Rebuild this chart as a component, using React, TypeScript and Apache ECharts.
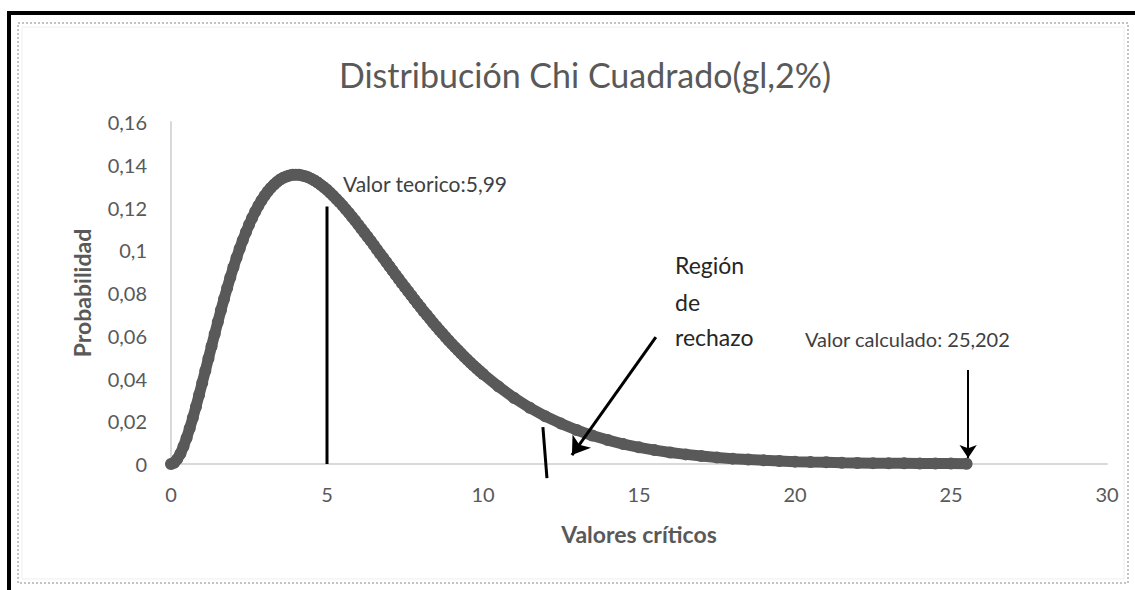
import React, { useEffect, useRef } from "react";
import * as echarts from "echarts";

const titleText = "Distribución Chi Cuadrado(gl,2%)";
const xAxisName = "Valores críticos";
const yAxisName = "Probabilidad";

// Valores críticos (x) and Probabilidad (y)
const valores: number[] = [
  0, 0.1, 0.2, 0.3, 0.4, 0.5, 0.6, 0.7, 0.8, 0.9,
  1, 1.1, 1.2, 1.3, 1.4, 1.5, 1.6, 1.7, 1.8, 1.9,
  2, 2.1, 2.2, 2.3, 2.4, 2.5, 2.6, 2.7, 2.8, 2.9,
  3, 3.1, 3.2, 3.3, 3.4, 3.5, 3.6, 3.7, 3.8, 3.9,
  4, 4.1, 4.2, 4.3, 4.4, 4.5, 4.6, 4.7, 4.8, 4.9,
  5, 5.1, 5.2, 5.3, 5.4, 5.5, 5.6, 5.7, 5.8, 5.9,
  6, 6.1, 6.2, 6.3, 6.4, 6.5, 6.6, 6.7, 6.8, 6.9,
  7, 7.1, 7.2, 7.3, 7.4, 7.5, 7.6, 7.7, 7.8, 7.9,
  8, 8.1, 8.2, 8.3, 8.4, 8.5, 8.6, 8.7, 8.8, 8.9,
  9, 9.1, 9.2, 9.3, 9.4, 9.5, 9.6, 9.7, 9.8, 9.9,
  10, 10.5, 11, 11.5, 12, 12.5, 13, 13.5, 14, 14.5,
  15, 15.5, 16, 16.5, 17, 17.5, 18, 18.5, 19, 19.5,
  20, 20.5, 21, 21.5, 22, 22.5, 23, 23.5, 24, 24.5,
  25, 25.5,
];

const probabilidad: number[] = [
  0, 0.0006, 0.0023, 0.0048, 0.0082, 0.0122, 0.0167, 0.0216, 0.0268, 0.0323,
  0.0379, 0.0436, 0.0494, 0.0551, 0.0608, 0.0664, 0.0719, 0.0772, 0.0823, 0.0873,
  0.092, 0.0965, 0.1007, 0.1047, 0.1084, 0.1119, 0.1151, 0.1181, 0.1208, 0.1233,
  0.1255, 0.1275, 0.1292, 0.1307, 0.132, 0.1331, 0.1339, 0.1345, 0.135, 0.1353,
  0.1353, 0.1353, 0.135, 0.1346, 0.1341, 0.1334, 0.1326, 0.1317, 0.1306, 0.1295,
  0.1283, 0.1269, 0.1255, 0.124, 0.1225, 0.1209, 0.1192, 0.1175, 0.1157, 0.1139,
  0.112, 0.1101, 0.1082, 0.1063, 0.1044, 0.1024, 0.1004, 0.0984, 0.0965, 0.0945,
  0.0925, 0.0905, 0.0885, 0.0866, 0.0846, 0.0827, 0.0808, 0.0789, 0.077, 0.0751,
  0.0733, 0.0714, 0.0697, 0.0679, 0.0661, 0.0644, 0.0627, 0.0611, 0.0594, 0.0578,
  0.0562, 0.0547, 0.0532, 0.0517, 0.0502, 0.0488, 0.0474, 0.046, 0.0447, 0.0434,
  0.0421, 0.0362, 0.0309, 0.0263, 0.0223, 0.0189, 0.0159, 0.0133, 0.0112, 0.0093,
  0.0078, 0.0065, 0.0054, 0.0045, 0.0037, 0.003, 0.0025, 0.0021, 0.0017, 0.0014,
  0.0011, 0.0009, 0.0008, 0.0006, 0.0005, 0.0004, 0.0003, 0.0003, 0.0002, 0.0002,
  0.0002, 0.0001,
];

// annotation segments, in data units [x, y]
const teoricoLine: number[][] = [[5, 0], [5, 0.1205]];
const corteLine: number[][] = [[11.92, 0.0173], [12.05, -0.0066]];
const rechazoArrow: number[][] = [[15.54, 0.0594], [12.85, 0.0042]];
const calculadoArrow: number[][] = [[25.55, 0.044], [25.55, 0.0028]];

const teoricoLabel = "Valor teorico:5,99";
const calculadoLabel = "Valor calculado: 25,202";
const rechazoLabel = ["Región", "de", "rechazo"];

const FONT = "Lato, 'Open Sans', sans-serif";
const GRAY = "#595959";

export default function App() {
  const ref = useRef<HTMLDivElement>(null);
  useEffect(() => {
    if (!ref.current) return;
    const chart = echarts.init(ref.current, undefined, { renderer: "svg" });
    const plainSeg = (pts: number[][]) => ({
      type: "line",
      data: pts,
      symbol: "none",
      clip: false,
      silent: true,
      lineStyle: { color: "#000", width: 3 },
      z: 5,
    });
    const arrowPair = (pts: number[][], width: number, size: number) => [
      { coord: pts[0], symbol: "none", lineStyle: { color: "#000", width, type: "solid" } },
      { coord: pts[1], symbol: "arrow", symbolSize: size },
    ];
    chart.setOption({
      animation: false,
      backgroundColor: "#ffffff",
      title: {
        text: titleText,
        left: 580,
        textAlign: "center",
        top: 52,
        textStyle: { fontFamily: FONT, fontSize: 34, fontWeight: "normal", color: GRAY },
      },
      grid: { left: 171, right: 28, top: 122, bottom: 126 },
      xAxis: {
        type: "value",
        min: 0,
        max: 30,
        interval: 5,
        name: xAxisName,
        nameLocation: "middle",
        nameGap: 58,
        nameTextStyle: { fontFamily: FONT, fontSize: 23, fontWeight: "bold", color: GRAY },
        axisLine: { show: true, onZero: false, lineStyle: { color: "#d9d9d9", width: 2 } },
        axisTick: { show: false },
        splitLine: { show: false },
        axisLabel: { fontFamily: FONT, fontSize: 20, color: GRAY, margin: 20 },
      },
      yAxis: {
        type: "value",
        min: 0,
        max: 0.16,
        interval: 0.02,
        name: yAxisName,
        nameLocation: "middle",
        nameRotate: 90,
        nameGap: 78,
        nameTextStyle: { fontFamily: FONT, fontSize: 23, fontWeight: "bold", color: GRAY },
        axisLine: { show: true, lineStyle: { color: "#d9d9d9", width: 2 } },
        axisTick: { show: false },
        splitLine: { show: false },
        axisLabel: {
          fontFamily: FONT,
          fontSize: 20,
          color: GRAY,
          margin: 24,
          formatter: (v: number) => String(Math.round(v * 100) / 100).replace(".", ","),
        },
      },
      series: [
        {
          type: "line",
          data: valores.map((x, i) => [x, probabilidad[i]]),
          symbol: "circle",
          symbolSize: 12,
          showSymbol: true,
          itemStyle: { color: GRAY },
          lineStyle: { color: GRAY, width: 11 },
          clip: false,
          z: 2,
          markLine: {
            silent: true,
            symbol: ["none", "none"],
            label: { show: false },
            z: 5,
            data: [arrowPair(rechazoArrow, 3, 17), arrowPair(calculadoArrow, 2, 13)],
          },
        },
        plainSeg(teoricoLine),
        plainSeg(corteLine),
      ],
      graphic: [
        { type: "rect", shape: { x: 7, y: 11, width: 1128, height: 4 }, style: { fill: "#000" } },
        { type: "rect", shape: { x: 7, y: 11, width: 4, height: 579 }, style: { fill: "#000" } },
        {
          type: "rect",
          shape: { x: 18, y: 23, width: 1110, height: 560 },
          style: { fill: "none", stroke: "#c4c4c4", lineWidth: 2, lineDash: [2, 2] },
        },
        {
          type: "rect",
          shape: { x: 22, y: 27, width: 1102, height: 552 },
          style: { fill: "none", stroke: "#efefef", lineWidth: 1 },
        },
        {
          type: "text",
          x: 343,
          y: 183,
          style: { text: teoricoLabel, fontFamily: FONT, fontSize: 21, fill: "#404040", verticalAlign: "middle" },
        },
        ...rechazoLabel.map((t, i) => ({
          type: "text",
          x: 675,
          y: [265, 302, 337][i],
          style: { text: t, fontFamily: FONT, fontSize: 23, fill: "#262626", verticalAlign: "middle" },
        })),
        {
          type: "text",
          x: 805,
          y: 339,
          style: { text: calculadoLabel, fontFamily: FONT, fontSize: 20, fill: "#404040", verticalAlign: "middle" },
        },
      ],
    });
    return () => chart.dispose();
  }, []);
  return (
    <div
      ref={ref}
      style={{ position: "absolute", left: 0, top: 0, width: 1135, height: 590, background: "#fff" }}
    />
  );
}
